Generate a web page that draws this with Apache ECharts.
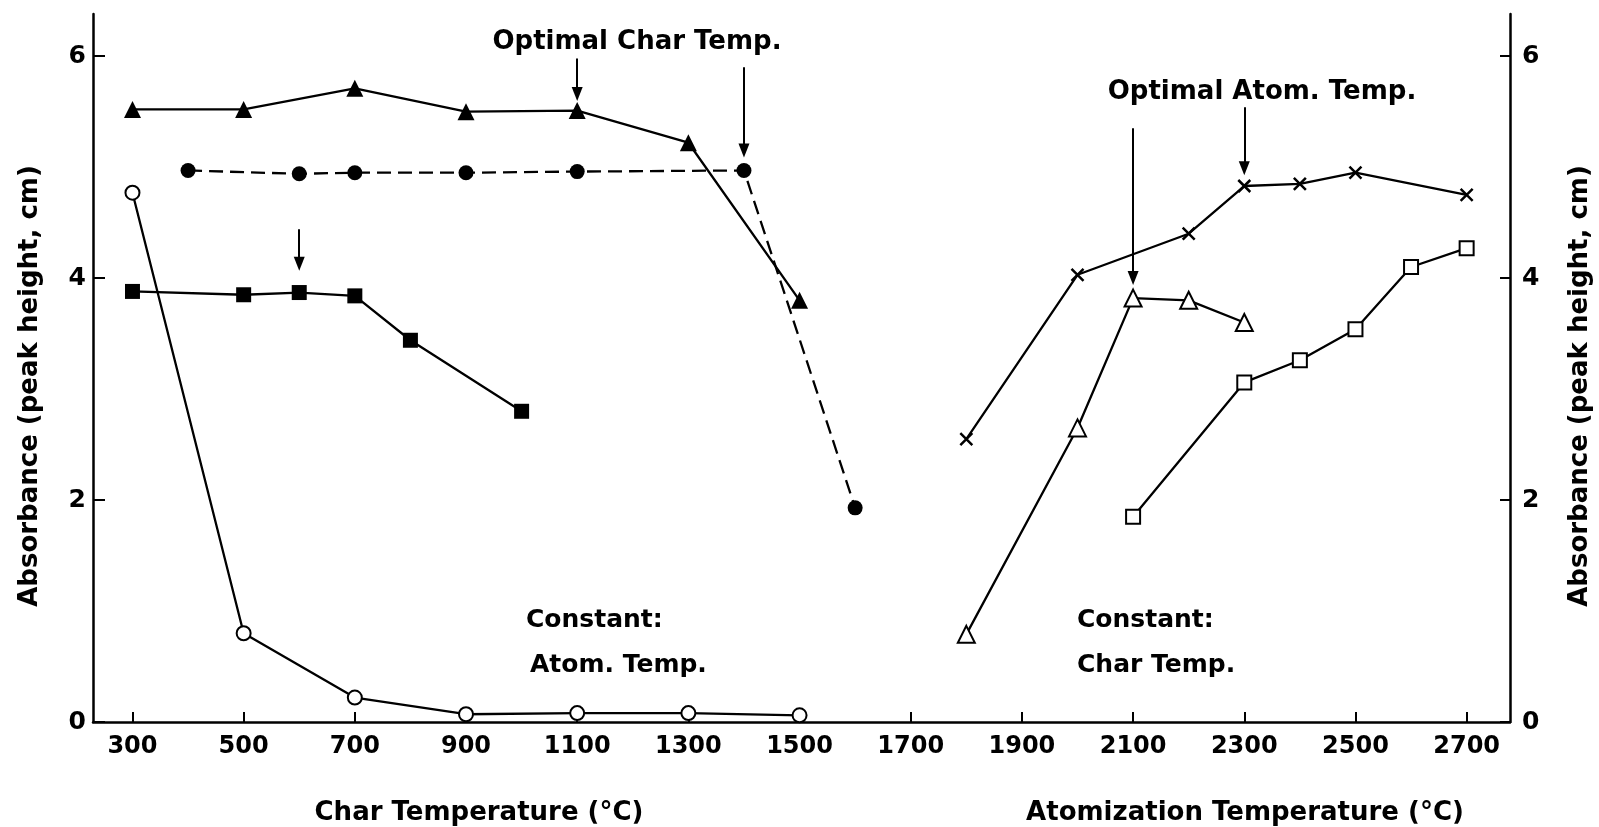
<!DOCTYPE html>
<html>
<head>
<meta charset="utf-8">
<title>Absorbance vs char and atomization temperature</title>
<script src="https://cdn.jsdelivr.net/npm/echarts@6/dist/echarts.min.js"></script>
<style>
  html, body { margin: 0; padding: 0; background: #fff; }
  #chart { width: 1599px; height: 827px; }
</style>
</head>
<body>
<div id="chart"></div>
<script>
// Axis ticks
const xTicks = [300, 500, 700, 900, 1100, 1300, 1500, 1700, 1900, 2100, 2300, 2500, 2700];
const yTicks = [0, 2, 4, 6];

// Char temperature series (left axis, atomization temperature held constant)
const triFilledX = [300, 500, 700, 900, 1100, 1300, 1500];
const triFilledY = [5.52, 5.52, 5.71, 5.50, 5.51, 5.22, 3.80];
const dotFilledX = [400, 600, 700, 900, 1100, 1400, 1600];
const dotFilledY = [4.97, 4.94, 4.95, 4.95, 4.96, 4.97, 1.93];
const sqFilledX = [300, 500, 600, 700, 800, 1000];
const sqFilledY = [3.88, 3.85, 3.87, 3.84, 3.44, 2.80];
const dotOpenX = [300, 500, 700, 900, 1100, 1300, 1500];
const dotOpenY = [4.77, 0.80, 0.22, 0.07, 0.08, 0.08, 0.06];

// Atomization temperature series (right axis, char temperature held constant)
const crossX = [1800, 2000, 2200, 2300, 2400, 2500, 2700];
const crossY = [2.55, 4.03, 4.40, 4.83, 4.85, 4.95, 4.75];
const triOpenX = [1800, 2000, 2100, 2200, 2300];
const triOpenY = [0.79, 2.65, 3.82, 3.80, 3.60];
const sqOpenX = [2100, 2300, 2400, 2500, 2600, 2700];
const sqOpenY = [1.85, 3.06, 3.26, 3.54, 4.10, 4.27];

// Optimum arrows: [temperature, tail value, head value]
const charArrows = [[1100, 5.98, 5.66], [1400, 5.90, 5.15], [600, 4.44, 4.13]];
const atomArrows = [[2100, 5.35, 4.00], [2300, 5.54, 4.99]];

const FONT = '"DejaVu Sans", "Liberation Sans", sans-serif';
const pairs = (xs, ys) => xs.map((x, i) => [x, ys[i]]);
const arrowLines = list => list.map(a => [{ coord: [a[0], a[1]] }, { coord: [a[0], a[2]] }]);

const arrowMark = list => ({
  silent: true,
  animation: false,
  symbol: ['none', 'triangle'],
  symbolSize: [11, 14],
  label: { show: false },
  lineStyle: { color: '#000', width: 2, type: 'solid' },
  itemStyle: { color: '#000' },
  emphasis: { disabled: true },
  data: arrowLines(list)
});

function lineSeries(name, xs, ys, axis, symbol, size, filled, dashed, extra) {
  return Object.assign({
    name: name,
    type: 'line',
    yAxisIndex: axis,
    data: pairs(xs, ys),
    symbol: symbol,
    symbolSize: size,
    showAllSymbol: true,
    lineStyle: { color: '#000', width: 2.3, type: dashed ? [14, 7] : 'solid' },
    itemStyle: filled
      ? { color: '#000', borderColor: '#000', borderWidth: 0 }
      : { color: '#fff', borderColor: '#000', borderWidth: 2 },
    emphasis: { disabled: true },
    z: 3
  }, extra || {});
}

const plainNumber = v => String(v);
const axisText = { color: '#000', fontFamily: FONT, fontWeight: 'bold', fontSize: 24, formatter: plainNumber };

const yAxisBase = (position, tickLen, margin) => ({
  type: 'value',
  position: position,
  min: 0,
  max: 6.38,
  axisLine: { show: true, onZero: false, lineStyle: { color: '#000', width: 2.5 } },
  axisTick: { show: true, inside: true, length: tickLen, customValues: yTicks, lineStyle: { color: '#000', width: 2 } },
  axisLabel: Object.assign({ customValues: yTicks, margin: margin }, axisText, { fontSize: 25 }),
  splitLine: { show: false }
});

const textEl = (text, x, y, size, align, rotation) => ({
  type: 'text',
  x: x,
  y: y,
  rotation: rotation || 0,
  silent: true,
  style: {
    text: text,
    fill: '#000',
    font: 'bold ' + size + 'px ' + FONT,
    textAlign: align,
    textVerticalAlign: 'middle',
    align: align,
    verticalAlign: 'middle'
  }
});

const option = {
  animation: false,
  backgroundColor: '#fff',
  grid: { left: 93, right: 89, top: 14, bottom: 105, containLabel: false },
  xAxis: {
    type: 'value',
    min: 229,
    max: 2778,
    axisLine: { show: true, onZero: false, lineStyle: { color: '#000', width: 2.5 } },
    axisTick: { show: true, inside: true, length: 10, customValues: xTicks, lineStyle: { color: '#000', width: 2 } },
    axisLabel: Object.assign({ customValues: xTicks, margin: 13 }, axisText),
    splitLine: { show: false }
  },
  yAxis: [yAxisBase('left', 12, 7), yAxisBase('right', 10, 12)],
  series: [
    lineSeries('triFilled', triFilledX, triFilledY, 0, 'triangle', 17, true, false,
      { markLine: arrowMark(charArrows) }),
    lineSeries('dotFilled', dotFilledX, dotFilledY, 0, 'circle', 15, true, true),
    lineSeries('sqFilled', sqFilledX, sqFilledY, 0, 'rect', 15, true, false),
    lineSeries('dotOpen', dotOpenX, dotOpenY, 0, 'circle', 14, false, false),
    lineSeries('cross', crossX, crossY, 1, 'path://M0,0L10,10M10,0L0,10', 12, true, false,
      { itemStyle: { color: '#000', borderColor: '#000', borderWidth: 2.5 }, markLine: arrowMark(atomArrows) }),
    lineSeries('triOpen', triOpenX, triOpenY, 1, 'triangle', 17, false, false),
    lineSeries('sqOpen', sqOpenX, sqOpenY, 1, 'rect', 14, false, false)
  ],
  graphic: [
    textEl('Optimal Char Temp.', 637, 42, 26, 'center'),
    textEl('Optimal Atom. Temp.', 1262, 92, 26, 'center'),
    textEl('Constant:', 526, 620, 25, 'left'),
    textEl('Atom. Temp.', 530, 665, 25, 'left'),
    textEl('Constant:', 1077, 620, 25, 'left'),
    textEl('Char Temp.', 1077, 665, 25, 'left'),
    textEl('Char Temperature (°C)', 479, 813, 26, 'center'),
    textEl('Atomization Temperature (°C)', 1245, 813, 26, 'center'),
    textEl('Absorbance (peak height, cm)', 30, 386, 26, 'center', Math.PI / 2),
    textEl('Absorbance (peak height, cm)', 1580, 386, 26, 'center', Math.PI / 2)
  ]
};

const chart = echarts.init(document.getElementById('chart'), null, { renderer: 'canvas' });
chart.setOption(option);
</script>
</body>
</html>
